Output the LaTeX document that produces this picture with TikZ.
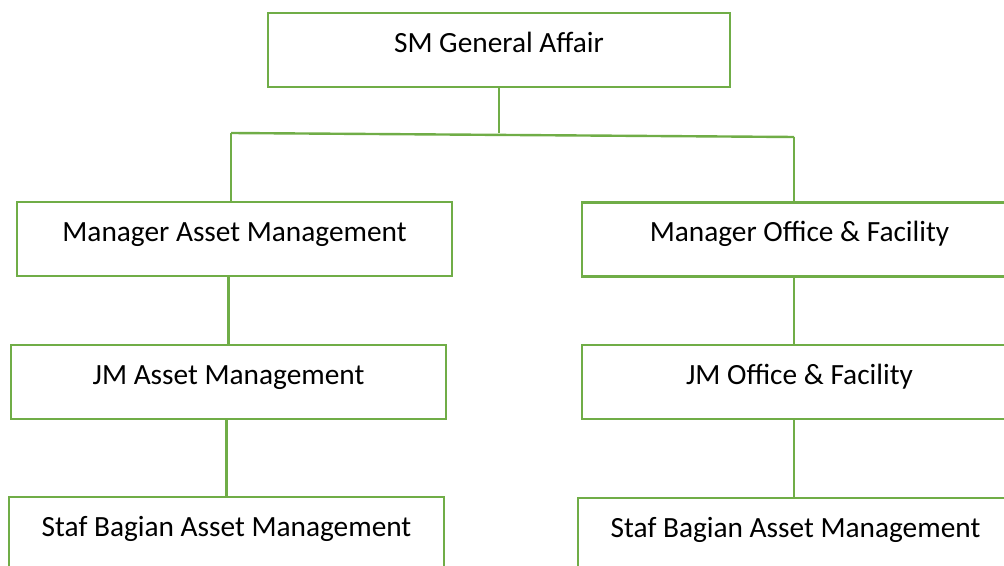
\documentclass[tikz,border=0pt]{standalone}
\usepackage{fontspec}
\setmainfont{Carlito}
\definecolor{orggreen}{HTML}{70AD47}
\tikzset{
  unit/.style={draw=orggreen, line width=1.8pt, inner sep=0pt,
    minimum width=326.25pt, minimum height=55.5pt,
    text height=15.4pt, text depth=12.1pt,
    font=\fontsize{22}{26}\selectfont},
  link/.style={draw=orggreen, line width=1.8pt}
}
\begin{document}
\begin{tikzpicture}[x=0.75pt,y=-0.75pt]
\useasboundingbox (0,0) rectangle (1004,566);
\clip (0,0) rectangle (1004,566);
\node[unit, minimum width=346.5pt] (sm) at (499,50) {SM General Affair};
% left branch
\node[unit] (mgrasset) at (234.5,239) {Manager Asset Management};
\node[unit] (jmasset) at (228.5,382) {JM Asset Management};
\node[unit] (stafasset) at (226.5,534) {Staf Bagian Asset Management};
% right branch
\node[unit] (mgroffice) at (799.5,239.5) {Manager Office \& Facility};
\node[unit] (jmoffice) at (799.5,382) {JM Office \& Facility};
\node[unit] (stafoffice) at (795.5,535) {Staf Bagian Asset Management};
\coordinate (barl) at (231,133);
\coordinate (barr) at (794,137);
\draw[link] (sm.south) -- (sm.south |- barl);
\draw[link] (barl) -- (barr);
\draw[link] (barl) -- (barl |- mgrasset.north);
\draw[link] (barr) -- (barr |- mgroffice.north);
\draw[link] (jmasset.north) -- (jmasset.north |- mgrasset.south);
\draw[link] (stafasset.north) -- (stafasset.north |- jmasset.south);
\draw[link] (barr |- mgroffice.south) -- (barr |- jmoffice.north);
\draw[link] (barr |- jmoffice.south) -- (barr |- stafoffice.north);
\end{tikzpicture}
\end{document}
